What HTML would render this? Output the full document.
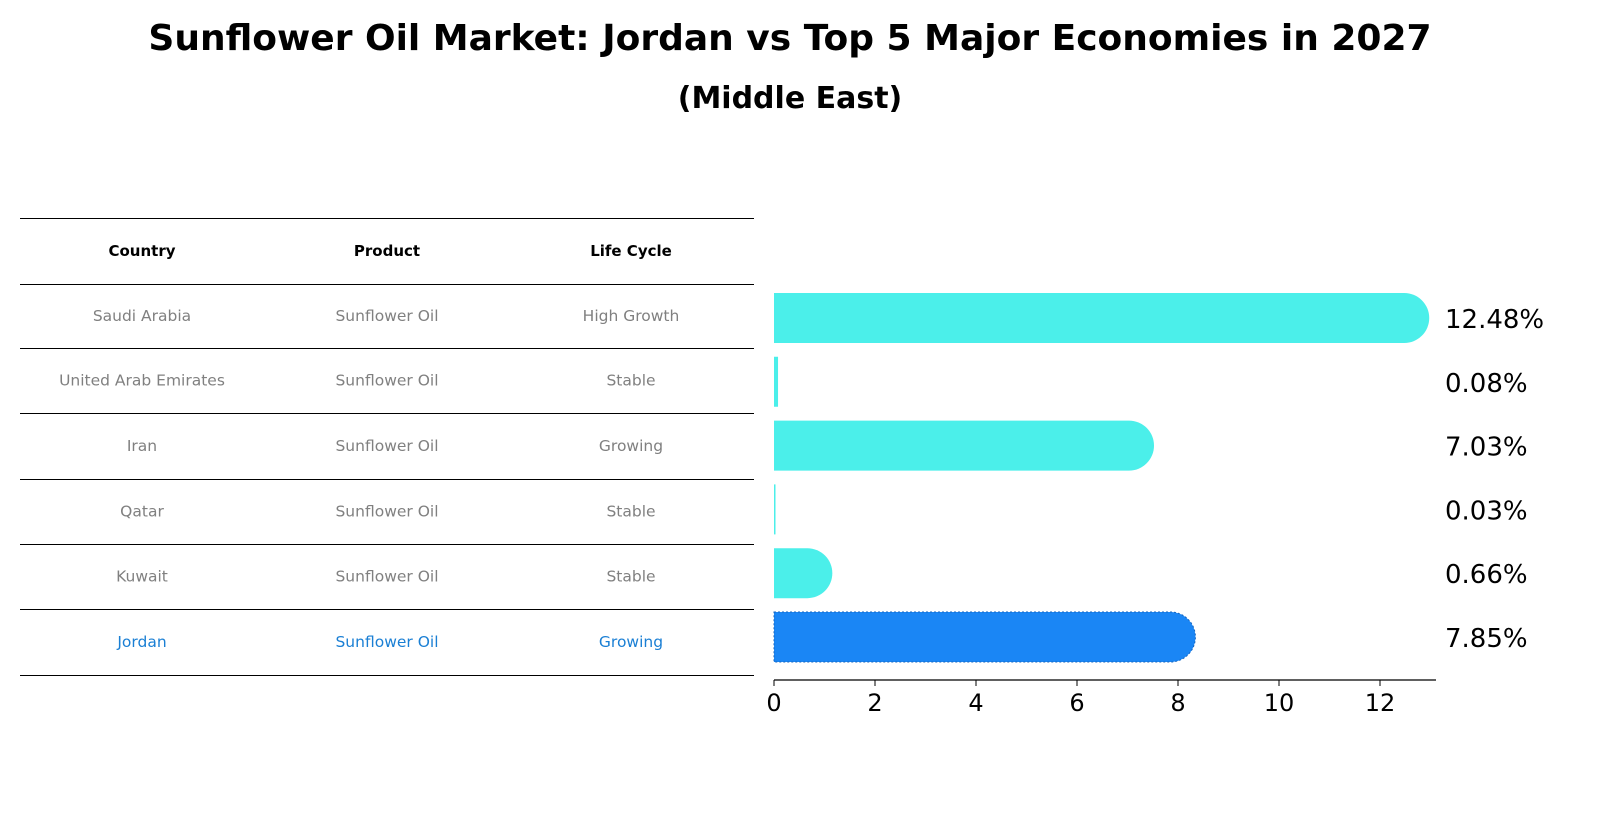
<!DOCTYPE html>
<html><head><meta charset="utf-8"><style>
body{margin:0;background:#fff}
svg text{font-family:"DejaVu Sans","Liberation Sans",sans-serif}
</style></head><body>
<svg id="chart" width="1604" height="823" viewBox="0 0 1604 823" xmlns="http://www.w3.org/2000/svg">
<text x="790" y="50" text-anchor="middle" font-size="36" font-weight="bold">Sunflower Oil Market: Jordan vs Top 5 Major Economies in 2027</text>
<text x="790" y="108" text-anchor="middle" font-size="30" font-weight="bold">(Middle East)</text>
<g id="table"></g>
<g id="bars"></g>
</svg>
<script>
const countries=["Saudi Arabia","United Arab Emirates","Iran","Qatar","Kuwait","Jordan"];
const products=["Sunflower Oil","Sunflower Oil","Sunflower Oil","Sunflower Oil","Sunflower Oil","Sunflower Oil"];
const lifeCycles=["High Growth","Stable","Growing","Stable","Stable","Growing"];
const values=[12.48,0.08,7.03,0.03,0.66,7.85];
const ticks=[0,2,4,6,8,10,12];
const NS="http://www.w3.org/2000/svg";
function mk(tag,attrs,parent,txt){const e=document.createElementNS(NS,tag);for(const k in attrs)e.setAttribute(k,attrs[k]);if(txt!==undefined)e.textContent=txt;parent.appendChild(e);return e;}
const table=document.getElementById('table');
const lineYs=[218,284,348,413,479,544,609,675];
lineYs.forEach(y=>{const l=mk('line',{x1:20,x2:754,y1:y+0.5,y2:y+0.5,stroke:'#000','stroke-width':1},table);

});
const colX=[142,387,631];
["Country","Product","Life Cycle"].forEach((h,i)=>{const t=mk('text',{x:colX[i],y:256,'text-anchor':'middle','font-size':15,'font-weight':'bold'},table,h);

});
countries.forEach((c,r)=>{const y=(lineYs[r+1]+lineYs[r+2])/2+5;const col=r===5?'#1a7fd4':'#808080';
[c,products[r],lifeCycles[r]].forEach((v,i)=>{const t=mk('text',{x:colX[i],y:y,'text-anchor':'middle','font-size':15.5,fill:col},table,v);

});});
const bars=document.getElementById('bars');
const x0=774,unit=50.5;const xs=v=>x0+v*unit;
const rowY=r=>318+r*63.8;const bh=50,rad=25;
values.forEach((v,r)=>{const cy=rowY(r),w=xs(v)-x0;const color=r===5?'#1a86f5':'#4befea';
let d;
if(v>=0.5){d=`M${x0},${cy-bh/2} H${x0+w} A${rad},${rad} 0 0 1 ${x0+w},${cy+bh/2} H${x0} Z`;}
else{d=`M${x0},${cy-bh/2} H${x0+Math.max(w,1)} V${cy+bh/2} H${x0} Z`;}
const p=mk('path',{d:d,fill:color},bars);
if(r===5){p.setAttribute('stroke','#1565c0');p.setAttribute('stroke-dasharray','2,2');p.setAttribute('stroke-width','1');}


const t=mk('text',{x:1445,y:cy+10,'font-size':26},bars,v.toFixed(2)+'%');

});
const ax=mk('line',{x1:x0,x2:1436,y1:680,y2:680,stroke:'#000','stroke-width':1.2},bars);


ticks.forEach(tv=>{const x=xs(tv);const l=mk('line',{x1:x,x2:x,y1:680,y2:686,stroke:'#000','stroke-width':1},bars);


const t=mk('text',{x:x,y:711,'text-anchor':'middle','font-size':24},bars,String(tv));

});
</script>
</body></html>
